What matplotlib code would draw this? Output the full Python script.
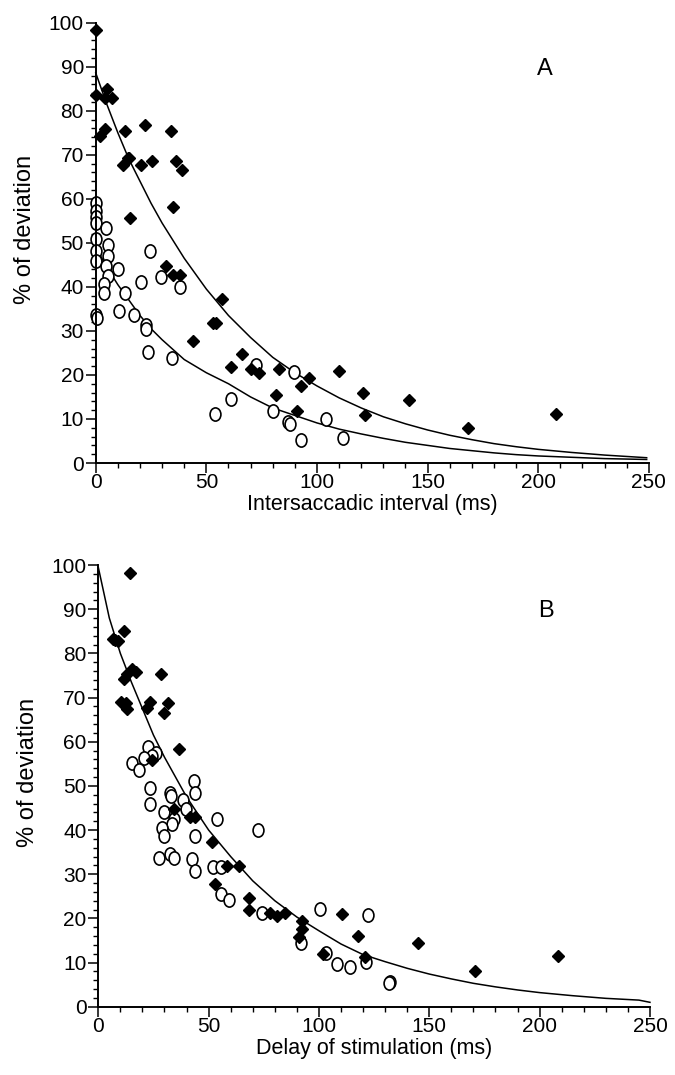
import matplotlib
matplotlib.use("Agg")
import matplotlib.pyplot as plt
from matplotlib.ticker import MultipleLocator
from matplotlib.path import Path
from matplotlib.transforms import Affine2D

plt.rcParams['font.family'] = ['Liberation Sans', 'DejaVu Sans']

# Panel A: filled diamonds
a_fill_x = [0, 0, 5.1, 4.1, 7.4, 1.9, 4.1, 13.4, 22.2, 33.8, 14.6, 12.3, 15.2, 20.6, 25.6,
            36.4, 39, 35, 15.4, 31.6, 35, 38.3, 57.3, 53, 54.5, 44, 66.2, 61.2, 70.2,
            73.7, 83, 96.3, 92.8, 109.8, 81.4, 91, 120.7, 121.8, 141.6, 168.2, 207.9]
a_fill_y = [98.4, 83.5, 85, 82.9, 82.9, 74.2, 75.8, 75.3, 76.7, 75.3, 69.2, 67.6, 69.2, 67.6, 68.6,
            68.6, 66.6, 58.1, 55.6, 44.8, 42.7, 42.7, 37.3, 31.9, 31.9, 27.7, 24.7, 21.9, 21.4,
            20.4, 21.4, 19.2, 17.6, 20.9, 15.5, 11.7, 15.8, 10.9, 14.2, 7.9, 11.1]
# Panel A: open circles
a_open_x = [0, 0, 0, 0, 4.8, 0, 0, 0, 5.6, 5.6, 4.6, 5.6, 10.1, 3.7, 3.7, 24.7, 20.6, 29.6,
            37.9, 13.4, 0, 0.4, 10.6, 17.2, 22.9, 22.9, 23.7, 34.7, 53.8, 61.2, 72.5, 80,
            89.4, 86.8, 87.6, 92.8, 104.1, 111.6]
a_open_y = [59, 57.3, 55.8, 54.6, 53.3, 50.8, 48.2, 45.8, 49.5, 47, 44.8, 42.5, 44, 40.6, 38.7,
            48.2, 41.2, 42.3, 39.9, 38.7, 33.6, 33, 34.5, 33.6, 31.4, 30.4, 25.3, 23.9, 11.1,
            14.5, 22.3, 11.9, 20.6, 9.4, 8.9, 5.2, 10.1, 5.6]
# Panel A fitted curves
a_curve_x = [0, 5, 10, 15, 20, 25, 30, 40, 50, 60, 70, 80, 90, 100, 110, 120, 130, 140,
             150, 160, 170, 180, 190, 200, 215, 230, 249]
a_upper_y = [88.6, 81.5, 75, 69, 64, 59, 54.5, 46.5, 39.5, 33.5, 28.5, 24, 20.5, 17.5, 14.8,
             12.5, 10.5, 8.9, 7.5, 6.3, 5.3, 4.4, 3.7, 3.1, 2.4, 1.8, 1.2]
a_lower_y = [49, 44.5, 40.5, 37, 33.5, 30.5, 28, 23.5, 20.5, 18, 15, 12.5, 10.8, 9.1, 7.7,
             6.6, 5.6, 4.7, 4.0, 3.3, 2.8, 2.3, 1.9, 1.6, 1.3, 1.0, 0.8]

# Panel B: filled diamonds
b_fill_x = [14.4, 11.8, 6.8, 9.1, 7.6, 15.2, 17, 12.9, 11.8, 28.5, 10.2, 12.6, 13.2, 23.5,
            22.3, 31.8, 29.9, 36.8, 24.3, 34.1, 41.7, 44, 51.5, 58.4, 63.6, 53, 68.5, 68.5,
            77.7, 81.1, 84.4, 92.4, 92.4, 90.9, 110.3, 117.5, 102, 120.8, 144.7, 170.8, 208.4]
b_fill_y = [98.3, 85, 83.2, 82.9, 83, 76.5, 75.8, 75.3, 74.1, 75.3, 69, 68.7, 67.3, 69,
            67.6, 68.7, 66.6, 58.3, 55.9, 44.7, 43, 42.9, 37.4, 31.9, 31.9, 27.7, 24.7, 21.9,
            21.3, 20.6, 21.3, 19.4, 17.7, 15.8, 21.1, 16, 11.9, 11.3, 14.5, 8.2, 11.5]
# Panel B: open circles
b_open_x = [22.7, 26.2, 24.3, 20.5, 15.5, 18.6, 43.2, 23.5, 44, 32.3, 33, 23.5, 38.6, 29.9,
            39.9, 34.1, 33.4, 53.8, 28.8, 29.9, 44, 72.4, 27.3, 32.3, 34.1, 42.5, 44, 52,
            55.6, 55.6, 59.1, 74, 100.5, 91.7, 103.4, 108.4, 114.1, 121.5, 122.3, 132.1, 131.6]
b_open_y = [58.9, 57.4, 56.8, 56.2, 55.2, 53.7, 51, 49.6, 48.3, 48.5, 47.7, 45.8, 46.8, 44.1,
            44.7, 42.6, 41.4, 42.4, 40.4, 38.6, 38.7, 40, 33.7, 34.5, 33.6, 33.4, 30.7, 31.7,
            31.7, 25.5, 24.2, 21.3, 22.1, 14.5, 12.2, 9.6, 9.1, 10.2, 20.8, 5.7, 5.4]
# Panel B fitted curve
b_curve_x = [0, 5, 10, 15, 20, 25, 30, 35, 40, 50, 60, 70, 80, 90, 100, 110, 120, 130, 140,
             150, 160, 170, 180, 190, 200, 215, 230, 245, 250]
b_curve_y = [99.5, 88, 80, 73.5, 67.5, 61.5, 56.5, 52, 47.5, 40, 34, 28.5, 24, 20.3, 17.2,
             14.2, 11.8, 10.2, 8.7, 7.4, 6.3, 5.3, 4.5, 3.8, 3.2, 2.5, 1.9, 1.5, 1.0]

# open symbols in the original look like a letter O: a bit taller than wide
oval = Path.unit_circle().transformed(Affine2D().scale(0.82, 1.0))

fig = plt.figure(figsize=(6.75, 10.75), dpi=100)
ax_a = fig.add_axes([0.1418, 0.5693, 0.8195, 0.4096])
ax_b = fig.add_axes([0.1456, 0.0635, 0.8173, 0.4109])


def style_axes(ax, xlabel, letter):
    ax.set_xlim(0, 250)
    ax.set_ylim(0, 100)
    for side in ('top', 'right'):
        ax.spines[side].set_visible(False)
    for side in ('left', 'bottom'):
        ax.spines[side].set_linewidth(1.4)
    ax.xaxis.set_major_locator(MultipleLocator(50))
    ax.xaxis.set_minor_locator(MultipleLocator(10))
    ax.yaxis.set_major_locator(MultipleLocator(10))
    ax.yaxis.set_minor_locator(MultipleLocator(2))
    ax.tick_params(which='major', direction='out', length=7, width=1.1, labelsize=15, pad=1.5)
    ax.tick_params(axis='x', which='major', pad=0.5)
    ax.tick_params(which='minor', direction='out', length=3.5, width=1.0)
    ax.set_xlabel(xlabel, fontsize=15.5, labelpad=1)
    ax.set_ylabel('% of deviation', fontsize=17, labelpad=6)
    ax.yaxis.set_label_coords(-0.108, 0.53)
    ax.text(203, 89.5, letter, fontsize=17, ha='center', va='center')


ax_a.plot(a_curve_x, a_upper_y, color='black', lw=1.1, clip_on=False)
ax_a.plot(a_curve_x, a_lower_y, color='black', lw=1.1, clip_on=False)
ax_a.plot(a_open_x, a_open_y, marker=oval, ls='none', ms=9.5, mfc='white', mec='black',
          mew=1.2, clip_on=False)
ax_a.plot(a_fill_x, a_fill_y, 'D', ms=5.8, color='black', clip_on=False)
style_axes(ax_a, 'Intersaccadic interval (ms)', 'A')

ax_b.plot(b_curve_x, b_curve_y, color='black', lw=1.1, clip_on=False)
ax_b.plot(b_open_x, b_open_y, marker=oval, ls='none', ms=9.5, mfc='white', mec='black',
          mew=1.2, clip_on=False)
ax_b.plot(b_fill_x, b_fill_y, 'D', ms=5.8, color='black', clip_on=False)
style_axes(ax_b, 'Delay of stimulation (ms)', 'B')

fig.savefig('out.png', dpi=100)
